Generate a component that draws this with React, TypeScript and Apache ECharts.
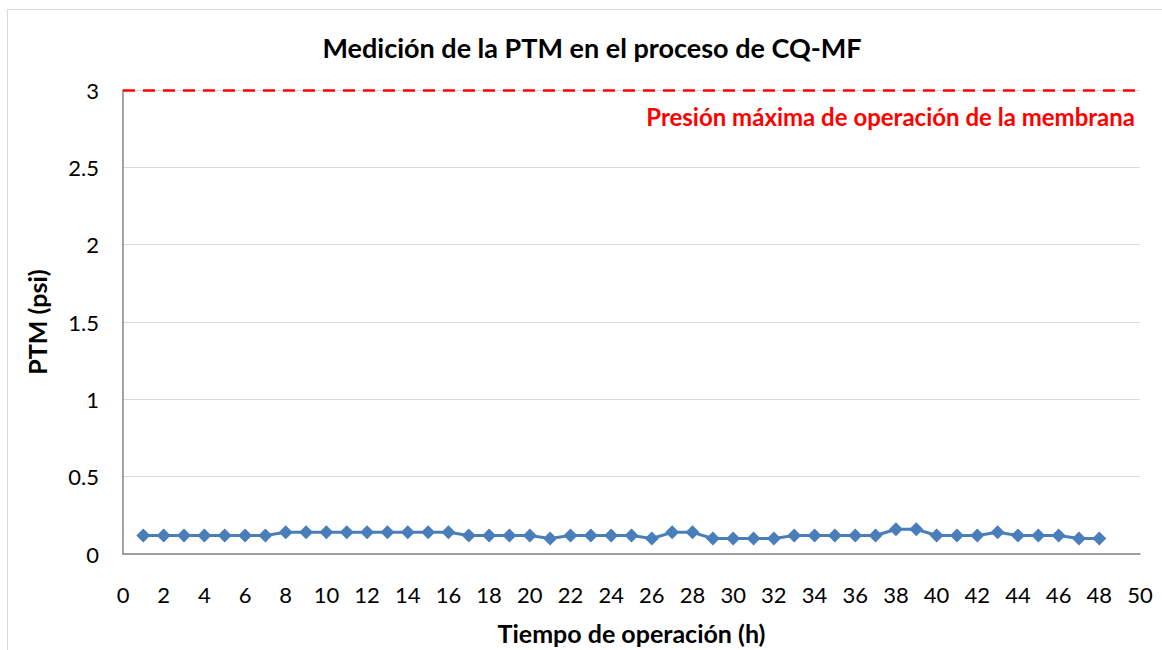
import React, { useEffect, useRef } from "react";
import * as echarts from "echarts";

const hours = [1,2,3,4,5,6,7,8,9,10,11,12,13,14,15,16,17,18,19,20,21,22,23,24,25,26,27,28,29,30,31,32,33,34,35,36,37,38,39,40,41,42,43,44,45,46,47,48];
const ptm = [0.12,0.12,0.12,0.12,0.12,0.12,0.12,0.14,0.14,0.14,0.14,0.14,0.14,0.14,0.14,0.14,0.12,0.12,0.12,0.12,0.10,0.12,0.12,0.12,0.12,0.10,0.14,0.14,0.10,0.10,0.10,0.10,0.12,0.12,0.12,0.12,0.12,0.16,0.16,0.12,0.12,0.12,0.14,0.12,0.12,0.12,0.10,0.10];
const maxPressure = 3;
const title = "Medición de la PTM en el proceso de CQ-MF";
const maxLabel = "Presión máxima de operación de la membrana";

const FONT = "Lato, 'Open Sans', sans-serif";

export default function App() {
  const ref = useRef<HTMLDivElement>(null);
  useEffect(() => {
    if (!ref.current) return;
    const chart = echarts.init(ref.current, undefined, { renderer: "svg" });
    chart.setOption({
      animation: false,
      backgroundColor: "#ffffff",
      title: {
        text: title,
        left: 587,
        textAlign: "center",
        top: 29,
        textStyle: { fontFamily: FONT, fontSize: 27, fontWeight: "bold", color: "#000" },
      },
      graphic: [
        {
          type: "rect",
          shape: { x: 7.5, y: 9.5, width: 1170, height: 660 },
          style: { fill: "none", stroke: "#d9d9d9", lineWidth: 1 },
          silent: true,
        },
        {
          type: "text",
          x: 1135,
          y: 116,
          style: {
            text: maxLabel,
            align: "right",
            verticalAlign: "middle",
            fill: "#ff0000",
            font: `bold 24px ${FONT}`,
          },
        },
      ],
      grid: { left: 123, right: 22, top: 90, bottom: 88 },
      xAxis: {
        type: "value",
        min: 0,
        max: 50,
        interval: 2,
        name: "Tiempo de operación (h)",
        nameLocation: "middle",
        nameGap: 66,
        nameTextStyle: { fontFamily: FONT, fontSize: 25, fontWeight: "bold", color: "#000" },
        axisLine: { show: true, lineStyle: { color: "#868686", width: 1.5 } },
        axisTick: { show: false },
        splitLine: { show: false },
        axisLabel: { fontFamily: FONT, fontSize: 22, color: "#000", margin: 29 },
      },
      yAxis: {
        type: "value",
        min: 0,
        max: 3,
        interval: 0.5,
        name: "PTM (psi)",
        nameLocation: "middle",
        nameGap: 74,
        nameTextStyle: { fontFamily: FONT, fontSize: 25, fontWeight: "bold", color: "#000" },
        axisLine: { show: true, lineStyle: { color: "#868686", width: 1.5 } },
        axisTick: { show: false },
        splitLine: { show: true, lineStyle: { color: "#d9d9d9", width: 1 } },
        axisLabel: { fontFamily: FONT, fontSize: 22, color: "#000", margin: 24 },
      },
      series: [
        {
          type: "line",
          data: hours.map((h, i) => [h, ptm[i]]),
          symbol: "diamond",
          symbolSize: 14,
          lineStyle: { color: "#4a7ebb", width: 3 },
          itemStyle: { color: "#4a7ebb" },
          markLine: {
            silent: true,
            symbol: "none",
            label: { show: false },
            lineStyle: { color: "#ff0000", type: [12, 8], width: 2.5 },
            data: [{ yAxis: maxPressure }],
          },
        },
      ],
    });
    return () => chart.dispose();
  }, []);
  return (
    <div
      ref={ref}
      style={{ position: "fixed", left: 0, top: 0, width: 1162, height: 650 }}
    />
  );
}
